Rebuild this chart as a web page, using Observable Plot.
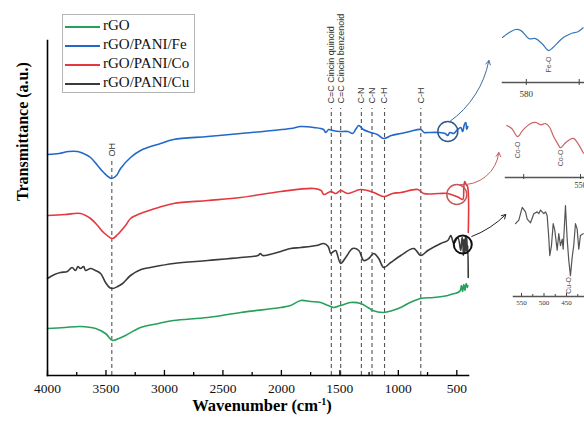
<!DOCTYPE html>
<html><head><meta charset="utf-8">
<script src="https://cdn.jsdelivr.net/npm/d3@7"></script>
<script src="https://cdn.jsdelivr.net/npm/@observablehq/plot@0.6"></script>
<style>
html,body{margin:0;padding:0;background:#fff;overflow:hidden;}
#wrap{position:relative;width:584px;height:427px;overflow:hidden;}
#wrap > svg{position:absolute;overflow:visible;}
#legend{position:absolute;left:62px;top:14px;width:131px;height:77px;border:1px solid #b5b5b5;background:#fff;font-family:"Liberation Serif",serif;font-size:15px;color:#111;}
#legend .row{position:absolute;left:0;height:19px;line-height:19px;white-space:nowrap;}
#legend .sw{display:inline-block;width:35px;height:2px;margin-left:2px;margin-right:3px;vertical-align:middle;}
</style></head>
<body><div id="wrap"></div>
<script>
// ---- data ----
const series = ["rGO", "rGO/PANI/Fe", "rGO/PANI/Co", "rGO/PANI/Cu"];
const colors = ["#27a05c", "#2268c9", "#e4383e", "#3a3a3a"];
const xTicks = [4000, 3500, 3000, 2500, 2000, 1500, 1000, 500];
const xMinor = [3750, 3250, 2750, 2250, 1750, 1250, 750];

const rGO = [[4000,0.47],[3850,0.48],[3718,0.49],[3589,0.47],[3504,0.42],[3444,0.35],[3390,0.37],[3333,0.40],[3204,0.48],[3050,0.52],[2922,0.55],[2631,0.58],[2348,0.63],[2006,0.68],[1921,0.70],[1835,0.75],[1750,0.74],[1664,0.73],[1600,0.70],[1553,0.68],[1493,0.70],[1407,0.73],[1322,0.72],[1260,0.68],[1219,0.65],[1125,0.63],[1050,0.65],[979,0.68],[900,0.73],[808,0.77],[697,0.78],[577,0.80],[520,0.82],[491,0.83],[470,0.85],[460,0.90],[450,0.84],[440,0.91],[430,0.85],[420,0.92],[410,0.88],[406,0.90]];
const fe = [[4000,2.21],[3900,2.22],[3820,2.24],[3743,2.24],[3692,2.22],[3632,2.18],[3572,2.10],[3520,2.03],[3452,1.97],[3410,2.00],[3375,2.07],[3290,2.18],[3204,2.25],[3033,2.32],[2922,2.36],[2631,2.39],[2348,2.42],[1921,2.47],[1835,2.49],[1724,2.48],[1640,2.46],[1620,2.43],[1596,2.46],[1560,2.45],[1500,2.44],[1430,2.44],[1390,2.42],[1360,2.47],[1338,2.50],[1300,2.46],[1236,2.43],[1180,2.41],[1125,2.37],[1060,2.40],[979,2.42],[900,2.44],[808,2.46],[780,2.43],[748,2.43],[650,2.43],[600,2.42],[577,2.40],[560,2.43],[526,2.42],[500,2.45],[466,2.48],[450,2.44],[435,2.51],[423,2.53],[415,2.46],[406,2.49]];
const co = [[4000,1.60],[3850,1.61],[3718,1.62],[3632,1.57],[3572,1.50],[3520,1.43],[3444,1.37],[3400,1.41],[3333,1.50],[3290,1.57],[3204,1.62],[3050,1.68],[2922,1.72],[2631,1.75],[2348,1.78],[2006,1.84],[1724,1.87],[1660,1.85],[1638,1.81],[1578,1.84],[1536,1.82],[1493,1.85],[1433,1.82],[1322,1.86],[1210,1.83],[1125,1.79],[1050,1.82],[979,1.83],[834,1.86],[783,1.82],[650,1.82],[577,1.82],[483,1.78],[449,1.76],[440,1.89],[432,1.94],[420,1.91],[408,1.89],[402,1.43]];
const cu = [[4000,0.97],[3940,1.01],[3889,1.03],[3830,1.04],[3790,1.08],[3760,1.05],[3740,1.09],[3718,1.07],[3690,1.09],[3675,1.05],[3632,1.07],[3590,1.05],[3546,1.02],[3504,0.93],[3470,0.88],[3444,0.87],[3400,0.89],[3358,0.92],[3290,1.00],[3200,1.06],[3119,1.08],[2922,1.12],[2631,1.15],[2348,1.18],[2200,1.20],[2180,1.22],[2160,1.20],[2006,1.24],[1921,1.27],[1835,1.28],[1700,1.30],[1638,1.32],[1600,1.29],[1578,1.22],[1555,1.24],[1536,1.25],[1493,1.12],[1450,1.18],[1390,1.27],[1338,1.25],[1296,1.15],[1253,1.17],[1210,1.22],[1168,1.17],[1125,1.08],[1065,1.13],[979,1.20],[868,1.27],[808,1.20],[748,1.25],[637,1.32],[577,1.35],[551,1.40],[526,1.32],[491,1.38],[466,1.25],[455,1.38],[449,1.35],[444,1.20],[438,1.36],[431,1.22],[426,1.40],[420,1.25],[415,1.38],[410,1.22],[406,1.30],[402,0.98]];

const peakWn = [3450, 1573, 1493, 1316, 1225, 1118, 808];
const peakLabels = ["OH", "C=C Cincin quinoid", "C=C Cincin benzenoid", "C-N", "C-N", "C-H", "C-H"];
const peakLineTop = [2.15, 2.67, 2.67, 2.67, 2.67, 2.67, 2.67];
const peakLabelAt = [2.19, 2.72, 2.72, 2.72, 2.72, 2.72, 2.72];

const circleWn = [577, 500, 449];
const circleT = [2.44, 1.81, 1.31];
const arrowFrom = [[560, 2.54], [474, 1.91], [372, 1.39]];
const arrowTo = [[226, 3.15], [141, 2.23], [81, 1.61]];

// insets
const feInsetWn = [589, 587, 584, 582, 579, 576.5, 574, 571.5, 570, 566, 563, 560.5, 558.5];
const feInsetT = [0.79, 0.86, 0.93, 0.91, 0.77, 0.77, 0.68, 0.56, 0.61, 0.79, 0.86, 0.89, 0.96];
const coInsetWn = [614.9, 610.5, 605.3, 600.9, 593.9, 589.5, 585.1, 580.7, 577.2, 573.7, 570.2, 567.6, 563.2, 559.7, 556.2, 552.6, 547.4];
const coInsetT = [0.84, 0.79, 0.66, 0.76, 0.87, 0.89, 0.85, 0.87, 0.81, 0.66, 0.55, 0.48, 0.56, 0.61, 0.63, 0.56, 0.39];
const cuInsetWn = [563.3, 556.0, 548.4, 541.1, 537.3, 530.0, 522.7, 515.1, 511.6, 507.8, 500.5, 496.7, 493.0, 489.4, 487.2, 483.4, 479.6, 476.1, 470.7, 467.2, 463.4, 459.6, 457.4, 452.3, 448.5, 445.0, 441.2, 437.4, 433.9, 430.1, 426.3, 422.7, 419.0, 413.0];
const cuInsetT = [0.80, 0.84, 0.98, 0.93, 0.85, 0.81, 0.91, 0.93, 0.91, 0.95, 0.91, 0.93, 0.89, 0.65, 0.45, 0.56, 0.80, 0.73, 0.51, 0.69, 0.56, 0.63, 0.52, 1.00, 0.63, 0.40, 0.23, 0.43, 0.56, 0.80, 0.74, 0.52, 0.67, 0.69];

// ---- build tables ----
const rows = [];
[rGO, fe, co, cu].forEach((s, i) => s.forEach(([w, t]) => rows.push({series: series[i], w, t})));
const peaks = peakWn.map((w, i) => ({w, label: peakLabels[i], top: peakLineTop[i], at: peakLabelAt[i]}));
const circleStroke = ["#2e5b8a", "#c4585a", "#111111"];
const circleR = [10, 10, 9];
const circleW = [1.5, 1.5, 2];
const arrowStroke = ["#3c6e9e", "#c46060", "#222222"];
const arrowBend = [-22, -45, -12];

const serif = '"Liberation Serif", "Times New Roman", serif';
const sans = '"Liberation Sans", Arial, sans-serif';
const wrap = document.getElementById("wrap");

const circleMarks = circleWn.map((w, i) =>
  Plot.dot([{w, t: circleT[i]}], {x: "w", y: "t", r: circleR[i], stroke: circleStroke[i], strokeWidth: circleW[i], fill: "none"}));
const arrowMarks = arrowFrom.map((f, i) =>
  Plot.arrow([{x1: f[0], y1: f[1], x2: arrowTo[i][0], y2: arrowTo[i][1]}], {x1: "x1", y1: "y1", x2: "x2", y2: "y2", bend: arrowBend[i], stroke: arrowStroke[i], strokeWidth: 1, headLength: 7}));

const main = Plot.plot({
  width: 584, height: 427,
  marginLeft: 47, marginRight: 116, marginTop: 40, marginBottom: 52,
  style: {fontFamily: serif, background: "#fff", color: "#000"},
  x: {domain: [4000, 400]},
  y: {domain: [0, 3.35], axis: null},
  color: {domain: series, range: colors},
  marks: [
    Plot.ruleX(peaks, {x: "w", y1: 0, y2: "top", stroke: "#555", strokeWidth: 1.1, strokeDasharray: "4,3"}),
    Plot.text(peaks, {x: "w", y: "at", text: "label", rotate: -90, textAnchor: "start", fontFamily: sans, fontSize: 9, fill: "#333"}),
    Plot.line(rows, {x: "w", y: "t", z: "series", stroke: "series", strokeWidth: 1.6, curve: "catmull-rom"}),
    ...circleMarks,
    ...arrowMarks,
    Plot.frame({anchor: "left", stroke: "#000", strokeWidth: 1.6}),
    Plot.frame({anchor: "bottom", stroke: "#000", strokeWidth: 1.6}),
    Plot.tickX(xTicks, {x: d => d, insetTop: 330, stroke: "#000", strokeWidth: 1.3}),
    Plot.tickX(xMinor, {x: d => d, insetTop: 332, stroke: "#000", strokeWidth: 1.3}),
    Plot.axisX({ticks: xTicks, tickSize: 0, tickPadding: 8, fontSize: 13.5, tickFormat: d => String(d), label: null, fill: "#111"}),
    Plot.text(["Wavenumber (cm-1)"], {frameAnchor: "bottom", text: d => d, dx: 4, dy: 35, fontSize: 16.5, fontWeight: "bold", fill: "#000"}),
    Plot.text(["Transmittance (a.u.)"], {frameAnchor: "left", text: d => d, rotate: -90, dx: -25, dy: -7, fontSize: 16, fontWeight: "bold", fill: "#000"})
  ]
});
main.style.left = "0px"; main.style.top = "0px";
wrap.appendChild(main);
d3.select(main).selectAll("text").filter(function() { return this.textContent === "Wavenumber (cm-1)"; })
  .each(function() {
    const t = d3.select(this); t.text("");
    t.append("tspan").text("Wavenumber (cm");
    t.append("tspan").attr("dy", -6).attr("font-size", 10).text("-1");
    t.append("tspan").attr("dy", 6).text(")");
  });

function inset(opts) {
  const data = opts.wn.map((w, i) => ({w, t: opts.t[i]}));
  const fh = opts.height - opts.mt - opts.mb;
  const p = Plot.plot({
    width: opts.width, height: opts.height,
    marginLeft: 0, marginRight: 0, marginTop: opts.mt, marginBottom: opts.mb,
    style: {fontFamily: serif, background: "transparent", overflow: "visible"},
    x: {domain: opts.domain},
    y: {domain: [0, 1], axis: null},
    marks: [
      Plot.line(data, {x: "w", y: "t", stroke: opts.color, strokeWidth: 1.2, curve: opts.curve}),
      Plot.text(opts.labels, {x: "w", y: "t", text: "label", rotate: -90, textAnchor: "start", fontFamily: sans, fontSize: 7, fill: "#555"}),
      Plot.frame({anchor: "bottom", stroke: "#555", strokeWidth: 1.5}),
      Plot.tickX(opts.ticks, {x: d => d, insetTop: fh - 3, insetBottom: opts.tickBelow, stroke: "#444", strokeWidth: 1}),
      Plot.tickX(opts.minor || [], {x: d => d, insetTop: fh - 2, stroke: "#444", strokeWidth: 1}),
      Plot.axisX({ticks: opts.ticks, tickSize: 0, tickPadding: opts.pad, fontSize: opts.fs, tickFormat: opts.fmt, label: null, fill: "#333"})
    ]
  });
  p.style.left = opts.left + "px"; p.style.top = opts.top + "px";
  wrap.appendChild(p);
}

inset({wn: feInsetWn, t: feInsetT, domain: [589, 558], left: 502, top: 15, width: 82, height: 88, mt: 10, mb: 21,
  color: "#3a78b8", curve: "catmull-rom", ticks: [580, 560], tickBelow: -3, pad: 8, fs: 9, fmt: d => d === 580 ? "580" : "",
  labels: [{w: 571.6, t: 0.175, label: "Fe-O"}]});
inset({wn: coInsetWn, t: coInsetT, domain: [616, 546.5], left: 505, top: 105, width: 79, height: 85, mt: 10, mb: 13,
  color: "#c96464", curve: "catmull-rom", ticks: [600, 550], tickBelow: -2, pad: 5, fs: 8, fmt: d => d === 550 ? "550" : "",
  labels: [{w: 605.3, t: 0.31, label: "Co-O"}, {w: 567.6, t: 0.18, label: "Co-O"}]});
inset({wn: cuInsetWn, t: cuInsetT, domain: [567.8, 410], left: 513, top: 195, width: 71, height: 115, mt: 10, mb: 14,
  color: "#555", curve: "linear", ticks: [550, 500, 450], minor: [525, 475, 425], tickBelow: 0, pad: 4, fs: 7, fmt: d => String(d),
  labels: [{w: 445, t: 0.03, label: "Cu-O"}]});

// legend (HTML, inside plot area as in reference)
const lg = document.createElement("div"); lg.id = "legend";
series.forEach((s, i) => {
  const r = document.createElement("div"); r.className = "row"; r.style.top = (1 + 19 * i) + "px";
  const sw = document.createElement("span"); sw.className = "sw"; sw.style.background = colors[i];
  r.appendChild(sw); r.appendChild(document.createTextNode(s)); lg.appendChild(r);
});
wrap.appendChild(lg);
</script></body></html>
